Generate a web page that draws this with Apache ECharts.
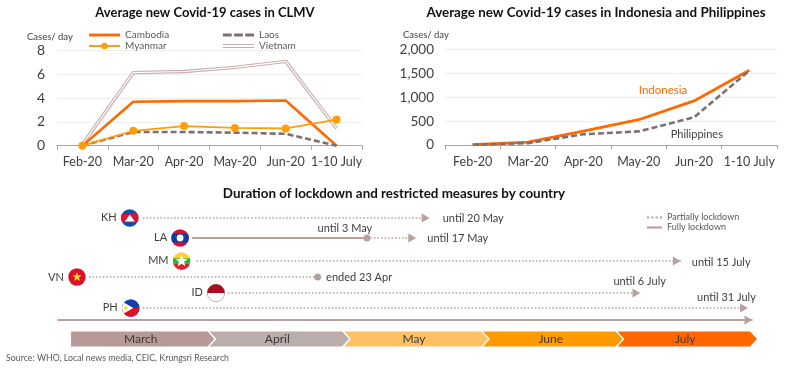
<!DOCTYPE html>
<html><head><meta charset="utf-8">
<style>html,body{margin:0;padding:0;background:#fff}#c{width:800px;height:370px}</style>
<script src="https://cdn.jsdelivr.net/npm/echarts@6/dist/echarts.min.js"></script></head>
<body><div id="c"></div>
<script>
const months = ['Feb-20','Mar-20','Apr-20','May-20','Jun-20','1-10 July'];
const cambodia = [0,3.7,3.75,3.75,3.8,0];
const laos = [0,1.15,1.15,1.1,1.0,0];
const myanmar = [0,1.25,1.65,1.5,1.45,2.2];
const vietnam = [0.1,6.15,6.25,6.6,7.1,1.45];
const indonesia = [5,60,290,530,925,1570];
const philippines = [5,40,225,285,580,1560];

const countries = ['KH','LA','MM','VN','ID','PH'];
const startDates = ['2020-03-17','2020-03-28','2020-03-29','2020-03-05','2020-04-05','2020-03-17'];
const endDates = ['2020-05-20','2020-05-17','2020-07-15','2020-04-25','2020-07-06','2020-07-30'];
const endTexts = ['until 20 May','until 17 May','until 15 July','ended 23 Apr','until 6 July','until 31 July'];
const laosFullEnd = '2020-05-06';
const laosFullText = 'until 3 May';
const timelineStart = '2020-02-27', timelineEnd = '2020-07-31';
const monthNames = ['March','April','May','June','July'];
const monthStarts = ['2020-03-01','2020-04-02','2020-05-02','2020-06-02','2020-07-02'];
const monthEnds = ['2020-04-02','2020-05-02','2020-06-02','2020-07-02','2020-08-01'];

const FONT='Lato', TXT='#404040', BRN='#b9a09e', GREY='#7f6f6f';
const monthColors=['#b79a98','#baaeac','#ffc064','#ff9a00','#ff6600'];
const rowY=[218,238,261,277,293,308], baseY=320, chevY=339;
const rowEndLabel=[[5,0],[3,0],[3,1],[-3,0],[-35,-12],[-59,-11]];
const T=s=>+new Date(s+'T00:00:00');

function band(cx,cy,r,y1,y2,fill){
  const pts=[],n=14;
  const a1=Math.asin(y1/r),a2=Math.asin(y2/r);
  for(let i=0;i<=n;i++){const a=a1+(a2-a1)*i/n;pts.push([cx+r*Math.cos(a),cy+r*Math.sin(a)]);}
  for(let i=n;i>=0;i--){const a=a1+(a2-a1)*i/n;pts.push([cx-r*Math.cos(a),cy+r*Math.sin(a)]);}
  return {type:'polygon',shape:{points:pts},style:{fill}};
}
function star(cx,cy,R,fill){
  const pts=[];
  for(let i=0;i<10;i++){const a=-Math.PI/2+i*Math.PI/5,r=i%2?R*0.42:R;pts.push([cx+r*Math.cos(a),cy+r*Math.sin(a)]);}
  return {type:'polygon',shape:{points:pts},style:{fill}};
}
function circ(cx,cy,r,fill,stroke){return {type:'circle',shape:{cx,cy,r},style:{fill,stroke,lineWidth:stroke?1:0}};}
function flag(code,c,y,r){
  if(code==='KH')return[circ(c,y,r,'#0a4fb0'),band(c,y,r,-r*.5,r*.5,'#e0102f'),
    {type:'polygon',shape:{points:[[c-5,y+3.5],[c+5,y+3.5],[c,y-3.5]]},style:{fill:'#fff'}}];
  if(code==='LA')return[circ(c,y,r,'#d8102a'),band(c,y,r,-r*.52,r*.52,'#0b3fa8'),circ(c,y,3.4,'#fff')];
  if(code==='MM')return[circ(c,y,r,'#fed12e'),band(c,y,r,-r*.33,r*.33,'#34b233'),band(c,y,r,r*.33,r*.999,'#e0202f'),star(c,y,6.5,'#fff')];
  if(code==='VN')return[circ(c,y,r,'#dc1028'),star(c,y,4.8,'#ffd81e')];
  if(code==='ID')return[circ(c,y,r,'#fff','#b5b5b5'),band(c,y,r,-r*.999,0,'#a80d20')];
  return[circ(c,y,r,'#1040b0'),band(c,y,r,0,r*.999,'#dc1028'),
    {type:'polygon',shape:{points:[[c-7,y-5.6],[c+2.5,y],[c-7,y+5.6],[c-9,y]]},style:{fill:'#fff'}},circ(c-5,y,1.8,'#fdd835')];
}

const axX=i=>({type:'category',gridIndex:i,data:months,boundaryGap:true,
  axisLine:{lineStyle:{color:'#a6a6a6',width:1}},axisTick:{show:true,length:4,lineStyle:{color:'#a6a6a6'}},
  axisLabel:{fontFamily:FONT,fontSize:12.5,color:TXT,margin:10,interval:0}});
const axY=(i,max,step,size,margin,fmt)=>({type:'value',gridIndex:i,min:0,max,interval:step,
  axisLine:{show:false},axisTick:{show:false},splitLine:{lineStyle:{color:'#eeeeee',width:1}},
  axisLabel:{fontFamily:FONT,fontSize:size,color:TXT,margin,formatter:fmt}});
const ttl=(text,x,y,size,weight,color,align)=>({text,left:x,top:y,textAlign:align||'center',textVerticalAlign:'middle',padding:0,
  textStyle:{fontFamily:FONT,fontSize:size,fontWeight:weight||'normal',color:color||TXT}});

const ln=(name,data,xi,style,extra)=>Object.assign({name,type:'line',data,xAxisIndex:xi,yAxisIndex:xi,symbol:'none',smooth:false,lineStyle:style,silent:true,z:3},extra||{});
const hidden={symbol:'circle',symbolSize:0.01};
const series=[
 ln('Vietnam',vietnam,0,{color:'#c6aeac',width:3.4},{itemStyle:{color:'#c6aeac'}}),
 ln('VietnamCore',vietnam,0,{color:'#ffffff',width:1.2},{z:4}),
 ln('Cambodia',cambodia,0,{color:'#ff6a00',width:2.6},{itemStyle:{color:'#ff6a00'},z:5}),
 ln('Laos',laos,0,{color:GREY,width:2.6,type:[6,3]},{itemStyle:{color:GREY},z:5}),
 ln('Myanmar',myanmar,0,{color:'#ff9e0d',width:1.8},{symbol:'circle',symbolSize:8,itemStyle:{color:'#ff9e0d'},z:6}),
 ln('Indonesia',indonesia.map((v,i)=>i===4?Object.assign({value:v,label:{show:true,formatter:'Indonesia',position:'top',offset:[-31,0],fontFamily:FONT,fontSize:11.5,color:'#ff6a00'}},hidden):v),1,{color:'#ff6a00',width:2.8},{itemStyle:{color:'#ff6a00'},z:5}),
 ln('Philippines',philippines.map((v,i)=>i===3?Object.assign({value:v,label:{show:true,formatter:'Philippines',position:'right',offset:[27,3],fontFamily:FONT,fontSize:11,color:TXT}},hidden):v),1,{color:GREY,width:2.6,type:[6,3]},{itemStyle:{color:GREY},z:6}),
];
const DOT={color:BRN,width:1.5,type:[1.5,2]}, SOLID={color:BRN,width:2};
const endSym={symbol:'triangle',symbolSize:[9,8],symbolRotate:-90,symbolOffset:[-4,0]};
countries.forEach((c,i)=>{
  const y=rowY[i], isLA=c==='LA', isVN=c==='VN';
  const lab={show:true,formatter:endTexts[i],position:'right',distance:8,offset:rowEndLabel[i],fontFamily:FONT,fontSize:11,color:TXT};
  const from=isLA?T(laosFullEnd):T(startDates[i]);
  const endItem=Object.assign({value:[T(endDates[i]),y],label:lab},isVN?{symbol:'circle',symbolSize:7}:endSym);
  series.push(ln('Partially lockdown',[{value:[from,y],symbol:'none'},endItem],2,DOT,{itemStyle:{color:BRN}}));
});
series.push(ln('Fully lockdown',[{value:[T(startDates[1]),rowY[1]],symbol:'none'},
  {value:[T(laosFullEnd),rowY[1]],symbol:'circle',symbolSize:7,label:{show:true,formatter:laosFullText,position:'top',distance:1,offset:[-22,0],fontFamily:FONT,fontSize:11,color:TXT}}],2,SOLID,{itemStyle:{color:BRN},z:5}));
series.push(ln('Timeline',[{value:[T(timelineStart),baseY],symbol:'none'},Object.assign({value:[T(timelineEnd),baseY]},endSym)],2,{color:BRN,width:2},{itemStyle:{color:BRN}}));
series.push({type:'custom',name:'Months',xAxisIndex:2,yAxisIndex:2,silent:true,clip:false,z:3,
  data:monthNames.map((m,i)=>[T(monthStarts[i]),T(monthEnds[i]),chevY,i]),
  encode:{x:[0,1],y:2},
  renderItem(p,api){
    const i=api.value(3),a=api.coord([api.value(0),api.value(2)]),b=api.coord([api.value(1),api.value(2)]);
    const h=7.5,tip=7,x0=i===0?a[0]:a[0]-5,x1=b[0],y=a[1];
    const pts=i===0?[[x0,y-h],[x1-tip,y-h],[x1,y],[x1-tip,y+h],[x0,y+h]]
      :[[x0,y-h],[x1-tip,y-h],[x1,y],[x1-tip,y+h],[x0,y+h],[x0+tip,y]];
    return {type:'group',children:[
      {type:'polygon',shape:{points:pts},style:{fill:monthColors[i]}},
      {type:'text',style:{text:monthNames[i],x:(x0+x1)/2-2,y,align:'center',verticalAlign:'middle',fontFamily:FONT,fontSize:12,fill:'#3a3a3a'}}
    ]};
  }});
series.push({type:'custom',name:'Flags',xAxisIndex:2,yAxisIndex:2,silent:true,z:7,
  data:countries.map((c,i)=>[T(startDates[i]),rowY[i],i]),
  encode:{x:0,y:1},
  renderItem(p,api){
    const i=api.value(2),pt=api.coord([api.value(0),api.value(1)]);
    const cd=countries[i],off={KH:13,LA:12,MM:15,VN:12,ID:12,PH:12}[cd];
    const c=pt[0]-off,y=pt[1];
    return {type:'group',children:flag(cd,c,y,8.7).concat([
      {type:'text',style:{text:cd,x:c-13,y:y+(cd==='VN'?0:-1),align:'right',verticalAlign:'middle',fontFamily:FONT,fontSize:11,fill:TXT}}])};
  }});

const legendText=s=>({fontFamily:FONT,fontSize:s,color:'#595959'});
const DASH='path://M0 0H9V3H0ZM11.5 0H20.5V3H11.5ZM23 0H32V3H23Z';
const option={
 animation:false,backgroundColor:'#fff',
 title:[
  ttl('Average new Covid-19 cases in CLMV',205,13,13,'bold','#111'),
  ttl('Average new Covid-19 cases in Indonesia and Philippines',596,13,13.4,'bold','#111'),
  ttl('Duration of lockdown and restricted measures by country',394,194,13.4,'bold','#111'),
  ttl('Cases/ day',27,37,9.5,'normal',TXT,'left'),
  ttl('Cases/ day',403,35,9.5,'normal',TXT,'left'),
  ttl('Source: WHO, Local news media, CEIC, Krungsri Research',6,358,8.8,'normal','#595959','left')
 ],
 grid:[
  {left:57,top:50.7,width:305,height:95},
  {left:445,top:49.7,width:332,height:95.3},
  {left:26.2,top:205,width:730.8,height:150}
 ],
 xAxis:[axX(0),axX(1),{type:'time',gridIndex:2,min:T('2020-02-20'),max:T('2020-08-01'),show:false}],
 yAxis:[axY(0,8,2,14,12),axY(1,2000,500,13.5,11,v=>v.toLocaleString('en-US')),
  {type:'value',gridIndex:2,min:205,max:355,inverse:true,show:false}],
 legend:[
  {left:88,top:30,padding:0,orient:'vertical',itemWidth:31,itemHeight:8,itemGap:1,textStyle:legendText(10),selectedMode:false,
   data:[{name:'Cambodia',icon:'path://M0 0H32V3H0Z'},'Myanmar']},
  {left:223,top:30,padding:0,orient:'vertical',itemWidth:31,itemHeight:8,itemGap:1,textStyle:legendText(10),selectedMode:false,
   data:[{name:'Laos',icon:DASH},{name:'Vietnam',icon:'path://M0 0H32V1H0ZM0 3H32V4H0Z'}]},
  {left:647,top:213,padding:0,orient:'vertical',itemWidth:15,itemHeight:5,itemGap:1,textStyle:legendText(9),selectedMode:false,
   data:[{name:'Partially lockdown',icon:'path://M0 0H2V2H0ZM4 0H6V2H4ZM8 0H10V2H8ZM12 0H14V2H12Z'},{name:'Fully lockdown',icon:'path://M0 0H14V2H0Z'}]}
 ],
 series
};
const chart=echarts.init(document.getElementById('c'),null,{renderer:'canvas'});
chart.setOption(option);
</script></body></html>
